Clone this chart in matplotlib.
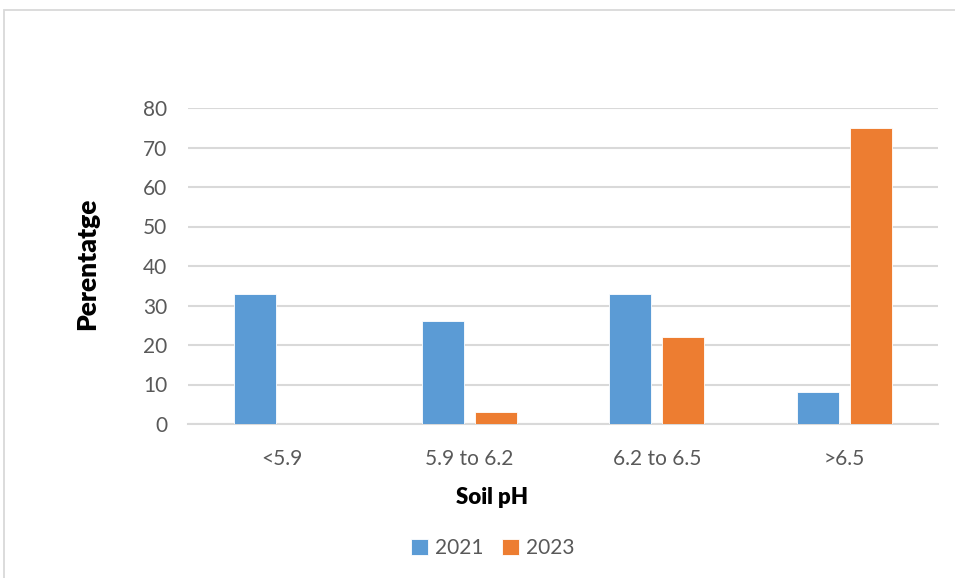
import matplotlib
matplotlib.use("Agg")
import matplotlib.pyplot as plt
import numpy as np
from matplotlib.patches import Rectangle

# ---------------------------------------------------------
# DATA
# ---------------------------------------------------------
categories = ["<5.9", "5.9 to 6.2", "6.2 to 6.5", ">6.5"]
series_names = ["2021", "2023"]
values_2021 = [33, 26, 33, 8]
values_2023 = [0, 3, 22, 75]
y_ticks = [0, 10, 20, 30, 40, 50, 60, 70, 80]

BLUE = "#5B9BD5"
ORANGE = "#ED7D31"
GRID = "#D9D9D9"
TEXT = "#595959"

plt.rcParams["font.family"] = ["Lato", "DejaVu Sans"]

# ---------------------------------------------------------
# FIGURE
# ---------------------------------------------------------
W, H = 955, 578
fig = plt.figure(figsize=(W / 100, H / 100), dpi=100)

# outer chart frame
fig.patches.append(Rectangle((3.5 / W, -0.01), 1.0, 1 - 9.5 / H + 0.01,
                             transform=fig.transFigure, fill=False,
                             edgecolor=GRID, linewidth=1.3))

ax = fig.add_axes([188 / W, 1 - 424 / H, (938 - 188) / W, (424 - 108) / H])

x = np.arange(len(categories))
bw = 0.224
off = 0.142
ax.bar(x - off, values_2021, bw, color=BLUE, edgecolor="white", linewidth=0.6,
       label=series_names[0], zorder=3)
ax.bar(x + off, values_2023, bw, color=ORANGE, edgecolor="white", linewidth=0.6,
       label=series_names[1], zorder=3)

ax.set_xlim(-0.5, len(categories) - 0.5)
ax.set_ylim(0, 80)
ax.set_yticks(y_ticks)
ax.set_xticks(x)
ax.set_xticklabels(categories)
ax.yaxis.grid(True, color=GRID, linewidth=1.5, zorder=0)
ax.set_axisbelow(True)

for s in ["top", "right", "left"]:
    ax.spines[s].set_visible(False)
ax.spines["bottom"].set_color(GRID)
ax.spines["bottom"].set_linewidth(1.5)
ax.spines["bottom"].set_zorder(1)

ax.tick_params(axis="both", length=0, labelsize=15, labelcolor=TEXT)
ax.tick_params(axis="y", pad=15)
ax.tick_params(axis="x", pad=18)

ax.set_xlabel("Soil pH", fontsize=16, fontweight="heavy")
ax.xaxis.set_label_coords((492 - 188) / (938 - 188), -(498 - 424) / (424 - 108))
ax.xaxis.label.set_va("center")
ax.set_ylabel("Perentatge", fontsize=19, fontweight="heavy")
ax.yaxis.set_label_coords(-(188 - 87) / (938 - 188), (424 - 264) / (424 - 108))
ax.yaxis.label.set_va("center")

ax.legend(loc="center", bbox_to_anchor=((493 - 188) / (938 - 188), -(548 - 424) / (424 - 108)),
          ncol=2, frameon=False, fontsize=15, handlelength=0.8, handleheight=0.8,
          handletextpad=0.35, columnspacing=0.9, labelcolor=TEXT)

fig.savefig("out.png", dpi=100)
